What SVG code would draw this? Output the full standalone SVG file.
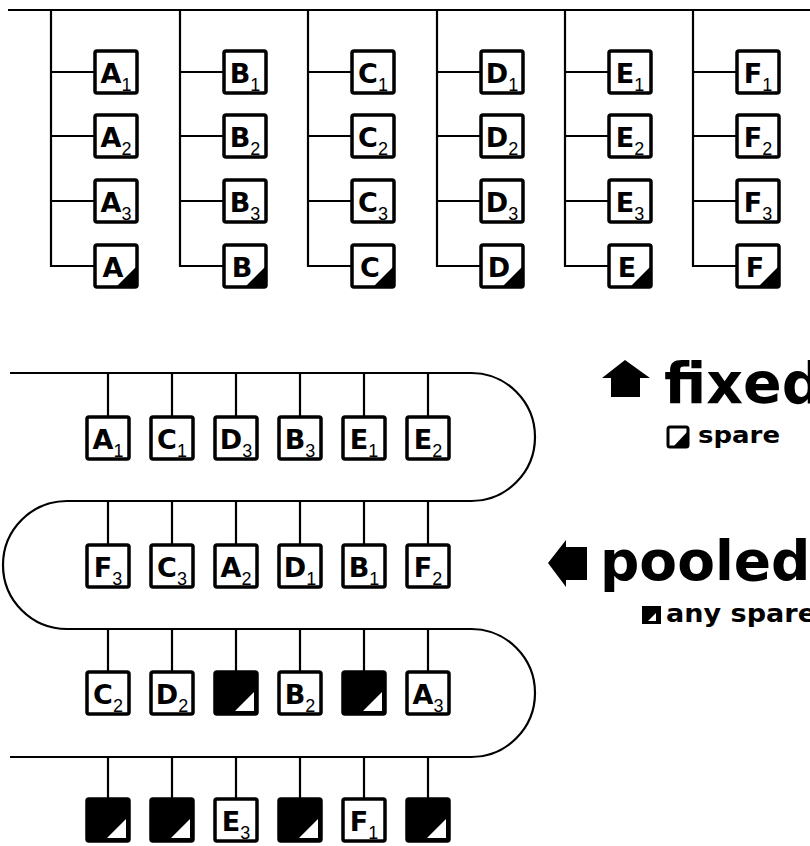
<svg xmlns="http://www.w3.org/2000/svg" width="810" height="846" viewBox="0 0 810 846">
<style>
.ln{fill:none;stroke:#000;stroke-width:2.2}
.bx{fill:#fff;stroke:#000;stroke-width:3.5}
.bk{fill:#000;stroke:#000;stroke-width:3.5}
.tb{fill:#000}
.tw{fill:#fff}
.L{font-family:"DejaVu Sans",sans-serif;font-weight:bold;font-size:27px;text-anchor:middle;fill:#000}
.s{font-family:"Liberation Sans",Arial,sans-serif;font-weight:normal;font-size:18px}
.big{font-family:"DejaVu Sans",sans-serif;font-weight:bold;fill:#000}
</style>
<rect width="810" height="846" fill="#fff"/>
<g id="connectors">
<path class="ln" d="M8 10 H810"/>
<path class="ln" d="M51 10 V266 H95 M51 72 H95 M51 136 H95 M51 201 H95"/>
<path class="ln" d="M180 10 V266 H224 M180 72 H224 M180 136 H224 M180 201 H224"/>
<path class="ln" d="M308 10 V266 H352 M308 72 H352 M308 136 H352 M308 201 H352"/>
<path class="ln" d="M437 10 V266 H481 M437 72 H481 M437 136 H481 M437 201 H481"/>
<path class="ln" d="M565 10 V266 H609 M565 72 H609 M565 136 H609 M565 201 H609"/>
<path class="ln" d="M693 10 V266 H737 M693 72 H737 M693 136 H737 M693 201 H737"/>
<path class="ln" d="M10 373 H471 A64 64 0 0 1 471 501 H67 A64 64 0 0 0 67 629 H471 A64 64 0 0 1 471 757 H10"/>
<path class="ln" d="M108 373 V417 M172 373 V417 M236 373 V417 M300 373 V417 M364 373 V417 M428 373 V417"/>
<path class="ln" d="M108 501 V545 M172 501 V545 M236 501 V545 M300 501 V545 M364 501 V545 M428 501 V545"/>
<path class="ln" d="M108 629 V672 M172 629 V672 M236 629 V672 M300 629 V672 M364 629 V672 M428 629 V672"/>
<path class="ln" d="M108 757 V799 M172 757 V799 M236 757 V799 M300 757 V799 M364 757 V799 M428 757 V799"/>
</g>
<!-- fixed: A -->
<g id="fA1"><rect class="bx" x="95" y="51" width="42" height="42" rx="2"/><text class="L" x="116" y="83">A<tspan class="s" dy="8">1</tspan></text></g>
<g id="fA2"><rect class="bx" x="95" y="115" width="42" height="42" rx="2"/><text class="L" x="116" y="147">A<tspan class="s" dy="8">2</tspan></text></g>
<g id="fA3"><rect class="bx" x="95" y="180" width="42" height="42" rx="2"/><text class="L" x="116" y="212">A<tspan class="s" dy="8">3</tspan></text></g>
<g id="fAs"><rect class="bx" x="95" y="245" width="42" height="42" rx="2"/><polygon class="tb" points="137,266 137,287 116,287"/><text class="L" x="113" y="277">A</text></g>
<!-- B -->
<g id="fB1"><rect class="bx" x="224" y="51" width="42" height="42" rx="2"/><text class="L" x="245" y="83">B<tspan class="s" dy="8">1</tspan></text></g>
<g id="fB2"><rect class="bx" x="224" y="115" width="42" height="42" rx="2"/><text class="L" x="245" y="147">B<tspan class="s" dy="8">2</tspan></text></g>
<g id="fB3"><rect class="bx" x="224" y="180" width="42" height="42" rx="2"/><text class="L" x="245" y="212">B<tspan class="s" dy="8">3</tspan></text></g>
<g id="fBs"><rect class="bx" x="224" y="245" width="42" height="42" rx="2"/><polygon class="tb" points="266,266 266,287 245,287"/><text class="L" x="242" y="277">B</text></g>
<!-- C -->
<g id="fC1"><rect class="bx" x="352" y="51" width="42" height="42" rx="2"/><text class="L" x="373" y="83">C<tspan class="s" dy="8">1</tspan></text></g>
<g id="fC2"><rect class="bx" x="352" y="115" width="42" height="42" rx="2"/><text class="L" x="373" y="147">C<tspan class="s" dy="8">2</tspan></text></g>
<g id="fC3"><rect class="bx" x="352" y="180" width="42" height="42" rx="2"/><text class="L" x="373" y="212">C<tspan class="s" dy="8">3</tspan></text></g>
<g id="fCs"><rect class="bx" x="352" y="245" width="42" height="42" rx="2"/><polygon class="tb" points="394,266 394,287 373,287"/><text class="L" x="370" y="277">C</text></g>
<!-- D -->
<g id="fD1"><rect class="bx" x="481" y="51" width="42" height="42" rx="2"/><text class="L" x="502" y="83">D<tspan class="s" dy="8">1</tspan></text></g>
<g id="fD2"><rect class="bx" x="481" y="115" width="42" height="42" rx="2"/><text class="L" x="502" y="147">D<tspan class="s" dy="8">2</tspan></text></g>
<g id="fD3"><rect class="bx" x="481" y="180" width="42" height="42" rx="2"/><text class="L" x="502" y="212">D<tspan class="s" dy="8">3</tspan></text></g>
<g id="fDs"><rect class="bx" x="481" y="245" width="42" height="42" rx="2"/><polygon class="tb" points="523,266 523,287 502,287"/><text class="L" x="499" y="277">D</text></g>
<!-- E -->
<g id="fE1"><rect class="bx" x="609" y="51" width="42" height="42" rx="2"/><text class="L" x="630" y="83">E<tspan class="s" dy="8">1</tspan></text></g>
<g id="fE2"><rect class="bx" x="609" y="115" width="42" height="42" rx="2"/><text class="L" x="630" y="147">E<tspan class="s" dy="8">2</tspan></text></g>
<g id="fE3"><rect class="bx" x="609" y="180" width="42" height="42" rx="2"/><text class="L" x="630" y="212">E<tspan class="s" dy="8">3</tspan></text></g>
<g id="fEs"><rect class="bx" x="609" y="245" width="42" height="42" rx="2"/><polygon class="tb" points="651,266 651,287 630,287"/><text class="L" x="627" y="277">E</text></g>
<!-- F -->
<g id="fF1"><rect class="bx" x="737" y="51" width="42" height="42" rx="2"/><text class="L" x="758" y="83">F<tspan class="s" dy="8">1</tspan></text></g>
<g id="fF2"><rect class="bx" x="737" y="115" width="42" height="42" rx="2"/><text class="L" x="758" y="147">F<tspan class="s" dy="8">2</tspan></text></g>
<g id="fF3"><rect class="bx" x="737" y="180" width="42" height="42" rx="2"/><text class="L" x="758" y="212">F<tspan class="s" dy="8">3</tspan></text></g>
<g id="fFs"><rect class="bx" x="737" y="245" width="42" height="42" rx="2"/><polygon class="tb" points="779,266 779,287 758,287"/><text class="L" x="755" y="277">F</text></g>

<!-- pooled row 1 -->
<g id="p1A1"><rect class="bx" x="87" y="417" width="42" height="42" rx="2"/><text class="L" x="108" y="449">A<tspan class="s" dy="8">1</tspan></text></g>
<g id="p1C1"><rect class="bx" x="151" y="417" width="42" height="42" rx="2"/><text class="L" x="172" y="449">C<tspan class="s" dy="8">1</tspan></text></g>
<g id="p1D3"><rect class="bx" x="215" y="417" width="42" height="42" rx="2"/><text class="L" x="236" y="449">D<tspan class="s" dy="8">3</tspan></text></g>
<g id="p1B3"><rect class="bx" x="279" y="417" width="42" height="42" rx="2"/><text class="L" x="300" y="449">B<tspan class="s" dy="8">3</tspan></text></g>
<g id="p1E1"><rect class="bx" x="343" y="417" width="42" height="42" rx="2"/><text class="L" x="364" y="449">E<tspan class="s" dy="8">1</tspan></text></g>
<g id="p1E2"><rect class="bx" x="407" y="417" width="42" height="42" rx="2"/><text class="L" x="428" y="449">E<tspan class="s" dy="8">2</tspan></text></g>
<!-- row 2 -->
<g id="p2F3"><rect class="bx" x="87" y="545" width="42" height="42" rx="2"/><text class="L" x="108" y="577">F<tspan class="s" dy="8">3</tspan></text></g>
<g id="p2C3"><rect class="bx" x="151" y="545" width="42" height="42" rx="2"/><text class="L" x="172" y="577">C<tspan class="s" dy="8">3</tspan></text></g>
<g id="p2A2"><rect class="bx" x="215" y="545" width="42" height="42" rx="2"/><text class="L" x="236" y="577">A<tspan class="s" dy="8">2</tspan></text></g>
<g id="p2D1"><rect class="bx" x="279" y="545" width="42" height="42" rx="2"/><text class="L" x="300" y="577">D<tspan class="s" dy="8">1</tspan></text></g>
<g id="p2B1"><rect class="bx" x="343" y="545" width="42" height="42" rx="2"/><text class="L" x="364" y="577">B<tspan class="s" dy="8">1</tspan></text></g>
<g id="p2F2"><rect class="bx" x="407" y="545" width="42" height="42" rx="2"/><text class="L" x="428" y="577">F<tspan class="s" dy="8">2</tspan></text></g>
<!-- row 3 -->
<g id="p3C2"><rect class="bx" x="87" y="672" width="42" height="42" rx="2"/><text class="L" x="108" y="704">C<tspan class="s" dy="8">2</tspan></text></g>
<g id="p3D2"><rect class="bx" x="151" y="672" width="42" height="42" rx="2"/><text class="L" x="172" y="704">D<tspan class="s" dy="8">2</tspan></text></g>
<g id="p3S1"><rect class="bk" x="215" y="672" width="42" height="42" rx="2"/><polygon class="tw" points="254,692 254,711 235,711"/></g>
<g id="p3B2"><rect class="bx" x="279" y="672" width="42" height="42" rx="2"/><text class="L" x="300" y="704">B<tspan class="s" dy="8">2</tspan></text></g>
<g id="p3S2"><rect class="bk" x="343" y="672" width="42" height="42" rx="2"/><polygon class="tw" points="382,692 382,711 363,711"/></g>
<g id="p3A3"><rect class="bx" x="407" y="672" width="42" height="42" rx="2"/><text class="L" x="428" y="704">A<tspan class="s" dy="8">3</tspan></text></g>
<!-- row 4 -->
<g id="p4S1"><rect class="bk" x="87" y="799" width="42" height="42" rx="2"/><polygon class="tw" points="126,819 126,838 107,838"/></g>
<g id="p4S2"><rect class="bk" x="151" y="799" width="42" height="42" rx="2"/><polygon class="tw" points="190,819 190,838 171,838"/></g>
<g id="p4E3"><rect class="bx" x="215" y="799" width="42" height="42" rx="2"/><text class="L" x="236" y="831">E<tspan class="s" dy="8">3</tspan></text></g>
<g id="p4S3"><rect class="bk" x="279" y="799" width="42" height="42" rx="2"/><polygon class="tw" points="318,819 318,838 299,838"/></g>
<g id="p4F1"><rect class="bx" x="343" y="799" width="42" height="42" rx="2"/><text class="L" x="364" y="831">F<tspan class="s" dy="8">1</tspan></text></g>
<g id="p4S4"><rect class="bk" x="407" y="799" width="42" height="42" rx="2"/><polygon class="tw" points="446,819 446,838 427,838"/></g>

<!-- legend fixed -->
<g id="fixed-label">
<polygon fill="#000" points="625,360 650,378 640,378 640,397 611,397 611,378 602,378"/>
<text class="big" x="664" y="403" font-size="57">fixed</text>
<rect x="668" y="427" width="20" height="20" rx="2" fill="#fff" stroke="#000" stroke-width="3"/>
<polygon fill="#000" points="688,431 688,447 673,447"/>
<text class="big" x="698" y="443" font-size="23" textLength="82" lengthAdjust="spacingAndGlyphs">spare</text>
</g>
<!-- legend pooled -->
<g id="pooled-label">
<polygon fill="#000" points="548,563 566,540 566,547 587,547 587,580 566,580 566,587"/>
<text class="big" x="600" y="580" font-size="55">pooled</text>
<rect x="643" y="607" width="17" height="16" fill="#000" stroke="#000" stroke-width="2"/>
<polygon fill="#fff" points="656,613 656,621 648,621"/>
<text class="big" x="666" y="622" font-size="24" textLength="150" lengthAdjust="spacingAndGlyphs">any spare</text>
</g>
</svg>
